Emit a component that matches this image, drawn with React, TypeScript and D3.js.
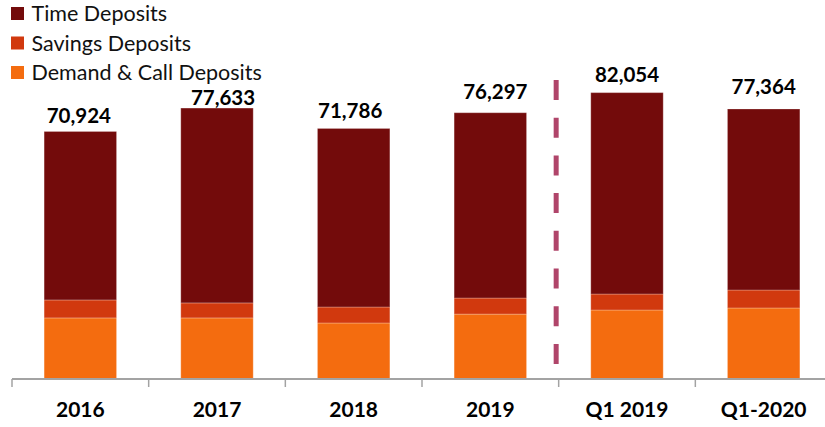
import React from "react";
import * as d3 from "d3";

const categories = ["2016", "2017", "2018", "2019", "Q1 2019", "Q1-2020"];
const totals = [70924, 77633, 71786, 76297, 82054, 77364];
const demandDeposits = [17500, 17500, 16050, 18600, 19770, 20350];
const savingsDeposits = [5150, 4300, 4580, 4600, 4580, 5150];
const timeDeposits = totals.map((t, i) => t - demandDeposits[i] - savingsDeposits[i]);
const seriesNames = ["Demand & Call Deposits", "Savings Deposits", "Time Deposits"];
const legendOrder = ["Time Deposits", "Savings Deposits", "Demand & Call Deposits"];
const colors: Record<string, string> = {
  "Time Deposits": "#730b0b",
  "Savings Deposits": "#d1390e",
  "Demand & Call Deposits": "#f46c0f",
};
// label placement tweaks (gap above bar, x shift)
const labelGap = [8, 2.6, 10, 13.7, 11, 15.3];
const labelShift = [-1.5, 6, -3.5, 5, 0, 0];

const W = 825;
const H = 427;

export default function App() {
  const x = d3.scaleBand<string>().domain(categories).range([12, 832]).paddingInner(0.47).paddingOuter(0.235);
  const y = d3.scaleLinear().domain([0, 100000]).range([379, 30]);

  const rows = categories.map((c, i) => ({
    cat: c,
    "Demand & Call Deposits": demandDeposits[i],
    "Savings Deposits": savingsDeposits[i],
    "Time Deposits": timeDeposits[i],
  }));
  const stack = d3.stack<any>().keys(seriesNames)(rows);

  const step = x.step();
  const boundaries = d3.range(categories.length + 1).map((i) => 12 + i * step);
  const dashX = 12 + 4 * step - 2.5;

  const font = "Lato, 'Open Sans', sans-serif";

  return (
    <div style={{ position: "fixed", left: 0, top: 0 }}>
      <svg width={W} height={H} style={{ display: "block", background: "#fff" }}>
        {stack.map((s) =>
          s.map((d, i) => (
            <rect
              key={s.key + i}
              x={x(categories[i])}
              y={y(d[1])}
              width={x.bandwidth()}
              height={y(d[0]) - y(d[1])}
              fill={colors[s.key]}
              stroke="#ffffff"
              strokeOpacity={0.25}
              strokeWidth={1}
            />
          ))
        )}
        <line x1={12} x2={W} y1={379} y2={379} stroke="#a3a3a3" strokeWidth={2} />
        {boundaries.map((b, i) => (
          <line key={i} x1={b} x2={b} y1={379} y2={387} stroke="#a3a3a3" strokeWidth={1.5} />
        ))}
        <line x1={dashX} x2={dashX} y1={80} y2={368} stroke="#b0456a" strokeWidth={5} strokeDasharray="20 17.7" />
        {categories.map((c, i) => (
          <text
            key={"v" + c}
            x={(x(c) as number) + x.bandwidth() / 2 + labelShift[i]}
            y={y(totals[i]) - labelGap[i]}
            textAnchor="middle"
            fontFamily={font}
            fontWeight={700}
            fontSize={20.5}
            fill="#000"
          >
            {d3.format(",")(totals[i])}
          </text>
        ))}
        {categories.map((c) => (
          <text
            key={"c" + c}
            x={(x(c) as number) + x.bandwidth() / 2}
            y={417}
            textAnchor="middle"
            fontFamily={font}
            fontWeight={700}
            fontSize={21}
            fill="#000"
          >
            {c}
          </text>
        ))}
        {legendOrder.map((n, i) => (
          <g key={n} transform={`translate(11, ${7 + i * 29.5})`}>
            <rect width={13} height={13} fill={colors[n]} />
            <text x={20.5} y={14} fontFamily={font} fontSize={21.5} fill="#111">
              {n}
            </text>
          </g>
        ))}
      </svg>
    </div>
  );
}
